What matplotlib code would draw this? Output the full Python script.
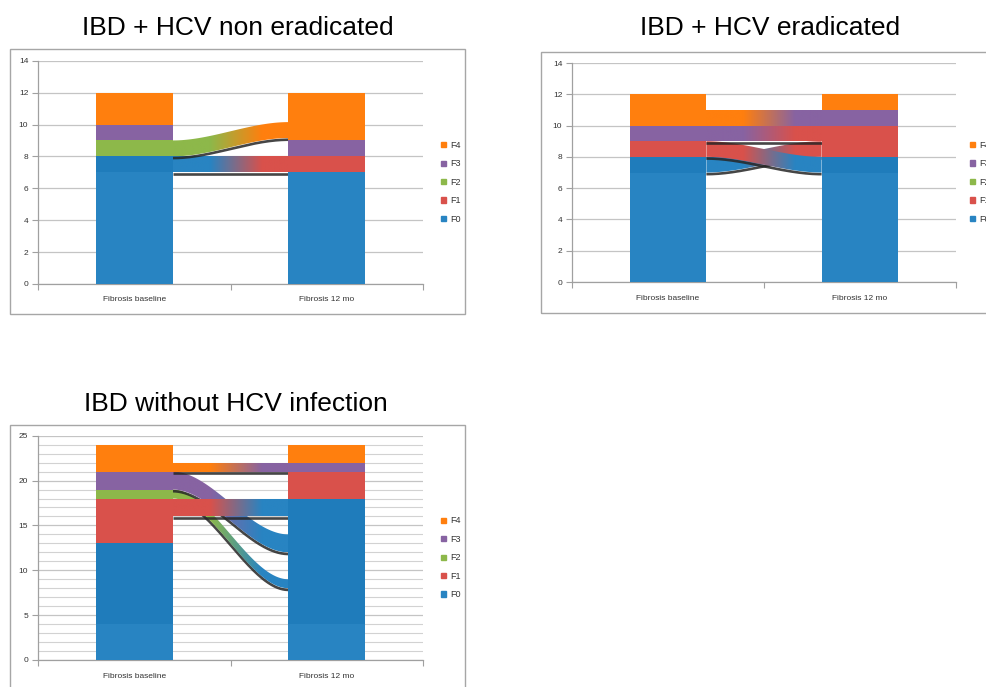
import numpy as np
import matplotlib
matplotlib.use('Agg')
import matplotlib.pyplot as plt
from matplotlib.patches import Polygon, Patch, Rectangle
from matplotlib.colors import to_rgb
from matplotlib.transforms import offset_copy

plt.rcParams['font.family'] = ['Liberation Sans', 'DejaVu Sans']

# categories and stages
categories = ['Fibrosis baseline', 'Fibrosis 12 mo']
stages = ['F0', 'F1', 'F2', 'F3', 'F4']
stage_colors = {'F0': '#2884c2', 'F1': '#d9514b', 'F2': '#8db84a',
                'F3': '#8763a2', 'F4': '#ff7f0e'}
dark_blue = '#1f7cbb'

# panel 1: IBD + HCV non eradicated
p1_baseline = [8, 0, 1, 1, 2]
p1_12mo = [7, 1, 0, 1, 3]
# (from, to, patients, y at baseline, y at 12 mo)
p1_flows = [('F0', 'F1', 1, 7, 7), ('F2', 'F4', 1, 8, 9.15)]

# panel 2: IBD + HCV eradicated
p2_baseline = [8, 1, 0, 1, 2]
p2_12mo = [8, 2, 0, 1, 1]
p2_flows = [('F4', 'F3', 1, 10, 10), ('F0', 'F1', 1, 7, 8),
            ('F1', 'F0', 1, 8, 7), ('F3', 'F1', 1, 9, 9)]

# panel 3: IBD without HCV infection
p3_baseline = [13, 5, 1, 2, 3]
p3_12mo = [18, 3, 0, 1, 2]
p3_flows = [('F2', 'F0', 1, 18, 8), ('F3', 'F0', 2, 19, 12),
            ('F1', 'F0', 2, 16, 16), ('F4', 'F3', 1, 21, 21)]

W, H = 986, 687
fig = plt.figure(figsize=(W / 100, H / 100), dpi=100)


def fig_box(left, top, right, bottom):
    return [left / W, 1 - bottom / H, (right - left) / W, (bottom - top) / H]


def ribbon(ax, flow, x0, x1, z):
    src, dst, val, ys, ye = flow
    xs = np.linspace(x0, x1, 300)
    t = (xs - x0) / (x1 - x0)
    s = 3 * t ** 2 - 2 * t ** 3
    yb = ys + (ye - ys) * s
    yt = yb + val
    shadow_tr = offset_copy(ax.transData, fig=fig, y=-1.2, units='points')
    ax.plot(xs, yb, color='#262626', lw=1.9, alpha=0.85,
            transform=shadow_tr, zorder=z, solid_capstyle='butt')
    verts = np.concatenate([np.column_stack([xs, yb]),
                            np.column_stack([xs[::-1], yt[::-1]])])
    poly = Polygon(verts, closed=True, facecolor='none', edgecolor='none')
    ax.add_patch(poly)
    g = np.clip((t - 0.32) / 0.45, 0, 1)
    c0 = np.array(to_rgb(stage_colors[src]))
    c1 = np.array(to_rgb(stage_colors[dst]))
    rgb = (1 - g)[:, None] * c0 + g[:, None] * c1
    im = ax.imshow(rgb[None, :, :], extent=[x0, x1, yb.min(), yt.max()],
                   aspect='auto', origin='lower', interpolation='bilinear',
                   zorder=z + 0.05)
    im.set_clip_path(poly)


def panel(box, base, later, flows, ymax, step, minor, shade, leg_x):
    ax = fig.add_axes(box)
    x = np.arange(len(categories))
    width = 0.4
    for i, vals in enumerate([base, later]):
        bottom = 0
        for st, v in zip(stages, vals):
            if v > 0:
                ax.bar(x[i], v, width, bottom=bottom, color=stage_colors[st],
                       zorder=5, linewidth=0)
                if st == 'F0' and v > shade:
                    ax.bar(x[i], v - shade, width, bottom=shade,
                           color=dark_blue, zorder=5.1, linewidth=0)
            bottom += v
    for k, fl in enumerate(flows):
        ribbon(ax, fl, x[0] + width / 2, x[1] - width / 2, 2 + k * 0.2)

    ax.set_xlim(-0.5, 1.5)
    ax.set_ylim(0, ymax)
    ax.set_yticks(np.arange(0, ymax + 0.1, step))
    if minor:
        ax.set_yticks(np.arange(0, ymax + 0.1, minor), minor=True)
        ax.grid(axis='y', which='minor', color='#d2d2d2', lw=0.8, zorder=0)
    ax.grid(axis='y', which='major', color='#c4c4c4', lw=0.9, zorder=0)
    ax.set_axisbelow(True)
    ax.set_xticks([-0.5, 0.5, 1.5])
    ax.set_xticklabels([])
    ax.set_xticks(x, minor=True)
    ax.set_xticklabels(categories, minor=True)
    ax.tick_params(axis='x', which='major', direction='out', length=4,
                   color='#a0a0a0')
    ax.tick_params(axis='x', which='minor', length=0, pad=9, labelsize=6,
                   labelcolor='#333333')
    ax.tick_params(axis='y', which='major', direction='out', length=4,
                   color='#a0a0a0', labelsize=6, labelcolor='#333333', pad=3)
    ax.tick_params(axis='y', which='minor', length=0)
    for side in ['top', 'right']:
        ax.spines[side].set_visible(False)
    for side in ['left', 'bottom']:
        ax.spines[side].set_color('#a0a0a0')
        ax.spines[side].set_linewidth(0.9)
    handles = [Patch(color=stage_colors[st], label=st) for st in stages[::-1]]
    leg = ax.legend(handles=handles, loc='center left',
                    bbox_to_anchor=(leg_x, 0.455), frameon=False,
                    fontsize=6.5, handlelength=0.55, handleheight=0.55,
                    handletextpad=0.5, labelspacing=1.05)
    for txt in leg.get_texts():
        txt.set_color('#333333')
    return ax


panel(fig_box(38, 60.7, 423, 284), p1_baseline, p1_12mo, p1_flows,
      14, 2, None, 7, 1.025)
panel(fig_box(572, 63, 956, 282), p2_baseline, p2_12mo, p2_flows,
      14, 2, None, 7, 1.015)
panel(fig_box(38, 435.7, 423, 660), p3_baseline, p3_12mo, p3_flows,
      25, 5, 1, 4, 1.025)

# chart frames
for left, top, right, bottom in [(10, 49, 465, 314), (541, 52, 1000, 313),
                                 (10, 425, 465, 700)]:
    b = fig_box(left, top, right, bottom)
    fig.add_artist(Rectangle((b[0], b[1]), b[2], b[3], transform=fig.transFigure,
                             fill=False, edgecolor='#a6a6a6', lw=1))

fig.text(237.5 / W, 1 - 28 / H, 'IBD + HCV non eradicated', fontsize=19,
         ha='center', va='center')
fig.text(770 / W, 1 - 28 / H, 'IBD + HCV eradicated', fontsize=19,
         ha='center', va='center')
fig.text(236 / W, 1 - 404 / H, 'IBD without HCV infection', fontsize=19,
         ha='center', va='center')

fig.savefig('out.png', dpi=100)
